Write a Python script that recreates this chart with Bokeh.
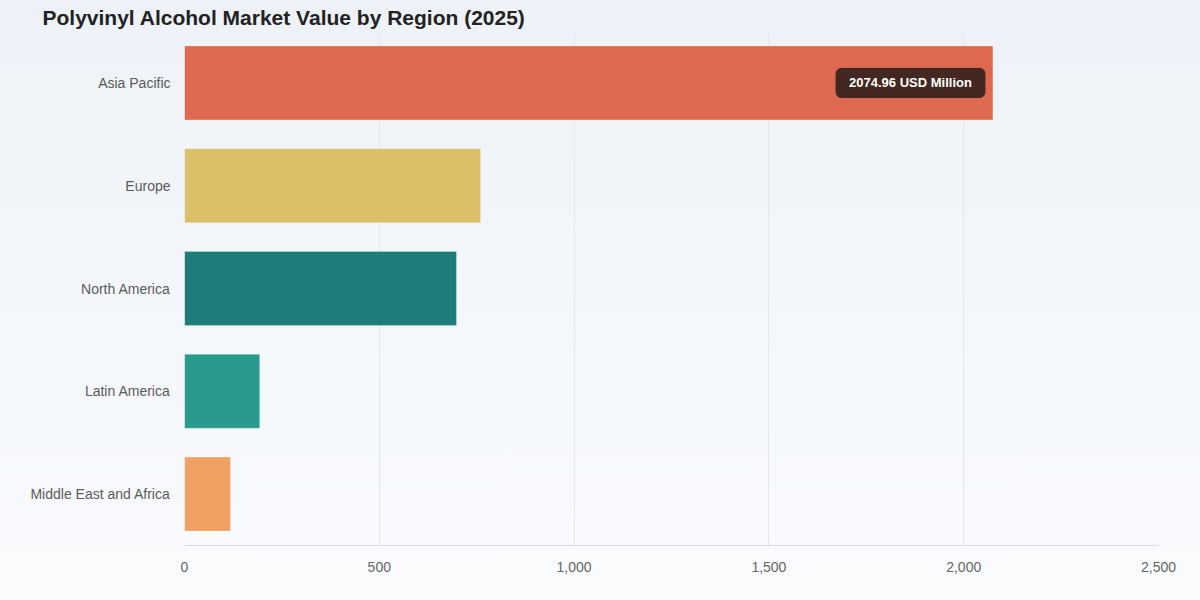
from bokeh.plotting import figure
from bokeh.models import Label, Legend, LegendItem, FixedTicker, NumeralTickFormatter, Range1d, Title
from bokeh.embed import file_html
from bokeh.resources import INLINE

regions = ["Asia Pacific", "Europe", "North America", "Latin America", "Middle East and Africa"]
values = [2074.96, 760, 698, 193, 118]
colors = ["#dd6a50", "#dcbf69", "#1f7d79", "#299b8d", "#f0a063"]
x_ticks = [0, 500, 1000, 1500, 2000, 2500]
title_text = "Polyvinyl Alcohol Market Value by Region (2025)"

p = figure(frame_width=974, frame_height=514, y_range=list(reversed(regions)), x_range=Range1d(0, 2500),
           output_backend="svg", toolbar_location=None,
           min_border_left=184, min_border_right=34, min_border_top=0, min_border_bottom=0)
p.title = Title(text=title_text, text_font="Liberation Sans", text_font_size="21px",
                text_color="#222222", text_font_style="bold", offset=-142, standoff=6)
p.background_fill_alpha = 0
p.border_fill_alpha = 0
p.outline_line_color = None

r = p.hbar(y=regions, right=values, left=0, height=0.72, fill_color=colors,
           line_color="white", line_alpha=0.25, fill_alpha=1.0)

p.xaxis.ticker = FixedTicker(ticks=x_ticks)
p.xaxis.formatter = NumeralTickFormatter(format="0,0")
p.xaxis.axis_line_color = "#d9dde3"
p.xaxis.major_tick_line_color = None
p.xaxis.minor_tick_line_color = None
p.xaxis.major_label_text_font = "Liberation Sans"
p.xaxis.major_label_text_font_size = "14px"
p.xaxis.major_label_text_color = "#666666"
p.xaxis.major_label_standoff = 10

p.yaxis.axis_line_color = None
p.yaxis.major_tick_line_color = None
p.yaxis.minor_tick_line_color = None
p.yaxis.major_label_text_font = "Liberation Sans"
p.yaxis.major_label_text_font_size = "14px"
p.yaxis.major_label_text_color = "#5a5a5a"
p.yaxis.major_label_standoff = 8

p.xgrid.grid_line_color = "#e3e6ea"
p.ygrid.grid_line_color = None

tip_y = len(regions) - 0.5 - regions.index("Asia Pacific")
tip = Label(x=values[0], y=tip_y, text=f"{values[0]:.2f} USD Million",
            text_align="right", text_baseline="middle", x_offset=-8,
            text_font="Liberation Sans", text_font_size="13px", text_font_style="bold",
            text_color="white", background_fill_color="#3a2520", background_fill_alpha=0.95,
            border_line_color="#3a2520", border_radius=5,
            padding=dict(left=13, right=13, top=7, bottom=7))
p.add_layout(tip)

legend = Legend(items=[LegendItem(label="Value", renderers=[r], index=0)],
                location="center", orientation="horizontal",
                background_fill_alpha=0, border_line_color=None, padding=2, margin=0,
                label_text_font="Liberation Sans", label_text_font_size="13px",
                label_text_color="#555555", glyph_width=14, glyph_height=14,
                label_height=14)
p.add_layout(legend, "below")

html = file_html(p, INLINE)
html = html.replace("<head>", "<head><style>html,body{background:linear-gradient(180deg,#eef2f8 0%,#f9fbfd 100%);min-height:600px;}</style>", 1)
open("out.html", "w").write(html)
